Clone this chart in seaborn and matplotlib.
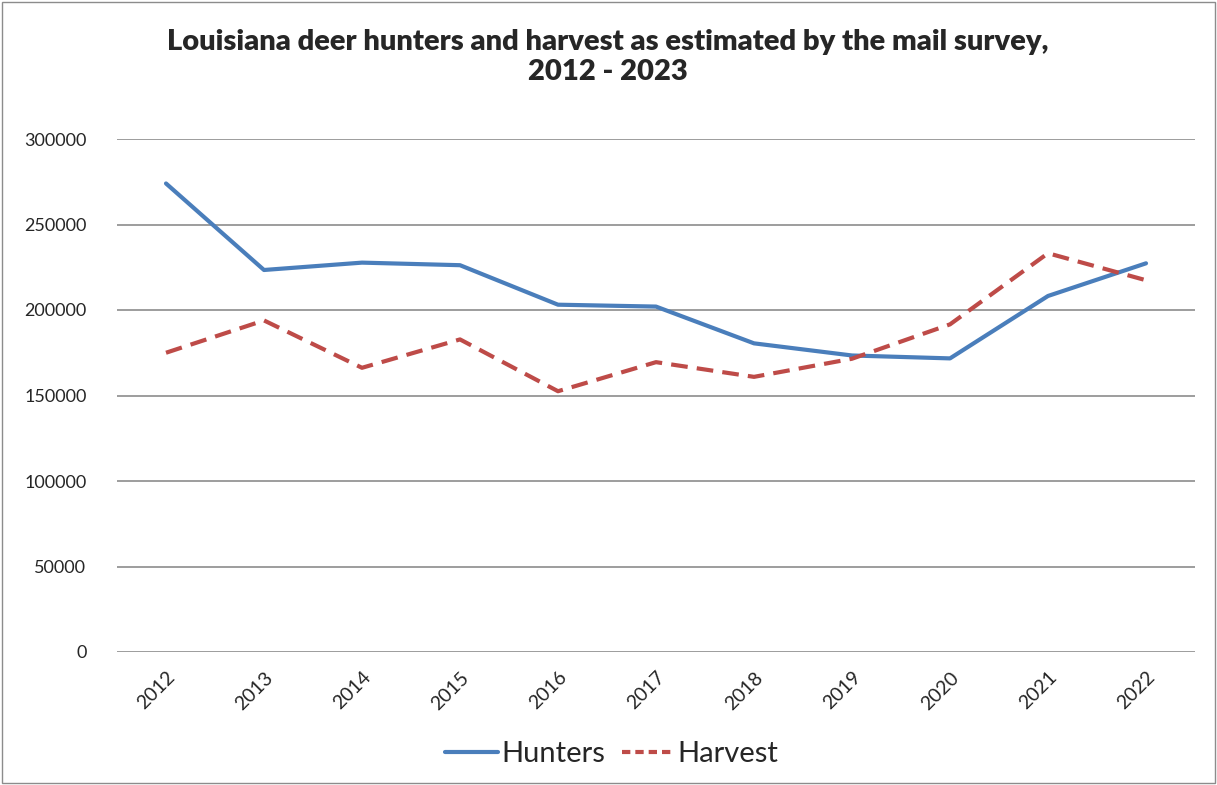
import matplotlib
matplotlib.use("Agg")
import matplotlib.pyplot as plt
import seaborn as sns
import pandas as pd
from matplotlib.lines import Line2D

years = ["2012", "2013", "2014", "2015", "2016", "2017", "2018", "2019", "2020", "2021", "2022"]
hunters = [274000, 223400, 227700, 226200, 203100, 202000, 180500, 173400, 171700, 208200, 227300]
harvest = [175000, 193900, 166200, 182800, 152500, 169500, 160900, 171500, 191600, 233200, 217400]
y_ticks = [0, 50000, 100000, 150000, 200000, 250000, 300000]
title = "Louisiana deer hunters and harvest as estimated by the mail survey,\n2012 - 2023"

df = pd.DataFrame({
    "Year": years * 2,
    "Value": hunters + harvest,
    "Series": ["Hunters"] * len(years) + ["Harvest"] * len(years),
})

sns.set_theme(style="white")
plt.rcParams["font.family"] = ["Lato", "DejaVu Sans"]

fig = plt.figure(figsize=(12.17, 7.85), dpi=100)
ax = fig.add_axes([117 / 1217, 1 - 652 / 785, (1195 - 117) / 1217, (652 - 139) / 785])

palette = {"Hunters": "#4A7EBB", "Harvest": "#BE4B48"}
dashes = {"Hunters": "", "Harvest": (4, 2.2)}
sns.lineplot(data=df, x="Year", y="Value", hue="Series", style="Series",
             palette=palette, dashes=dashes, linewidth=3, ax=ax, legend=False, sort=False)

ax.set_xlim(-0.5, len(years) - 0.5)
ax.set_ylim(0, 300000)
ax.set_yticks(y_ticks)
ax.set_yticklabels([str(v) for v in y_ticks], fontsize=13)
ax.set_xticks(range(len(years)))
ax.set_xticklabels(years, rotation=45, fontsize=14, ha="right", rotation_mode="anchor")
ax.tick_params(axis="x", pad=12, length=0)
ax.tick_params(axis="y", pad=22, length=0)
ax.set_xlabel("")
ax.set_ylabel("")
ax.grid(axis="y", color="#8C8C8C", linewidth=1.2)
ax.set_axisbelow(True)
for s in ax.spines.values():
    s.set_visible(False)

fig.text(608 / 1217, 1 - 57 / 785, title, ha="center", va="center",
         fontsize=21, fontweight="heavy", linespacing=1.2)

handles = [Line2D([], [], color=palette["Hunters"], linewidth=3),
           Line2D([], [], color=palette["Harvest"], linewidth=3, linestyle=(0, (2, 1.2)))]
fig.legend(handles, ["Hunters", "Harvest"], loc="center", bbox_to_anchor=(612 / 1217, 1 - 754 / 785),
           ncol=2, frameon=False, fontsize=21, handlelength=1.8, handletextpad=0.1, columnspacing=0.6)

border = plt.Rectangle((0.0015, 0.002), 0.997, 0.996, transform=fig.transFigure,
                       fill=False, edgecolor="#8C8C8C", linewidth=1)
fig.patches.append(border)

fig.savefig("out.png", dpi=100, facecolor="white")
